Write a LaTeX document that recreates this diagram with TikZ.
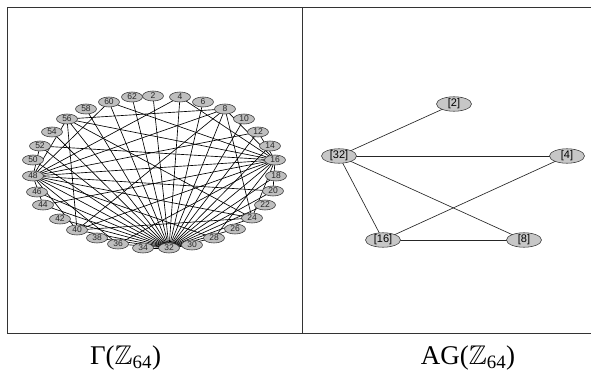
\documentclass[tikz,border=0pt]{standalone}
\usepackage{amssymb}
\usepackage{fontspec}
\setmainfont{Liberation Serif}
\newfontfamily\labfont{Liberation Sans}
\usetikzlibrary{shapes.geometric}
\pgfdeclarelayer{bg}
\pgfsetlayers{bg,main}
\tikzset{
  vtx/.style={ellipse, draw=black!80, fill=black!25, line width=0.55pt, inner sep=0pt,
    minimum width=21pt, minimum height=10pt, font=\labfont\fontsize{8.5}{9}\selectfont, text=black!85},
  cls/.style={ellipse, draw=black!80, fill=black!22, line width=0.55pt, inner sep=0pt,
    minimum width=35pt, minimum height=10.5pt, font=\labfont\fontsize{11}{11}\selectfont},
  edge/.style={line width=0.65pt, black},
  aedge/.style={line width=0.65pt, black!85},
  frame/.style={line width=1pt, black!80},
  captxt/.style={font=\fontsize{27}{29}\selectfont, inner sep=0pt}
}
\begin{document}
\begin{tikzpicture}[x=1pt,y=-1pt]
\useasboundingbox (0,0) rectangle (591,374);
% frame
\coordinate (tl) at (7,8); \coordinate (tr) at (591,8);
\coordinate (bl) at (7,333); \coordinate (br) at (591,333);
\coordinate (mt) at (302.5,8); \coordinate (mb) at (302.5,333);
\draw[frame] (tl) -- (tr);
\draw[frame] (bl) -- (br);
\draw[frame] (tl) -- (bl);
\draw[frame] (mt) -- (mb);
% left graph vertices
\foreach \n/\x/\y in {
 2/153/96, 4/180/97, 6/203/102, 8/225/109, 10/244/119, 12/258/132, 14/270/146,
 16/275/160, 18/276/176, 20/273/191, 22/265/205, 24/252/218, 26/235/229,
 28/214/238, 30/192/245, 32/169/248, 34/143/248, 36/118/244, 38/97/238,
 40/77/230, 42/60/219, 44/43/205, 46/37/192, 48/33/176, 50/33/160, 52/40/146,
 54/52/132, 56/67/119, 58/86/109, 60/109/102, 62/132/97}
 \node[vtx] (n\n) at (\x,\y) {\n};
% edges of the zero-divisor graph
\begin{pgfonlayer}{bg}
\foreach \v in {2,4,...,30,34,36,...,62} \draw[edge] (n32.center) -- (n\v.center);
\foreach \v in {4,12,20,28,36,44,52,60,8,24,40,56,48} \draw[edge] (n16.center) -- (n\v.center);
\foreach \v in {4,12,20,28,36,44,52,60,8,24,40,56} \draw[edge] (n48.center) -- (n\v.center);
\foreach \a/\b in {8/24,8/40,8/56,24/40,24/56,40/56} \draw[edge] (n\a.center) -- (n\b.center);
\end{pgfonlayer}
% right graph
\node[cls] (c2) at (454,104) {[2]};
\node[cls] (c32) at (339,156) {[32]};
\node[cls] (c4) at (567,156) {[4]};
\node[cls] (c16) at (383,240) {[16]};
\node[cls] (c8) at (524,240) {[8]};
\begin{pgfonlayer}{bg}
\draw[aedge] (c32.center) -- (c2.center);
\draw[aedge] (c32.center) -- (c4.center);
\draw[aedge] (c32.center) -- (c16.center);
\draw[aedge] (c32.center) -- (c8.center);
\draw[aedge] (c16.center) -- (c4.center);
\draw[aedge] (c16.center) -- (c8.center);
\end{pgfonlayer}
% captions
\node[captxt] (capl) at (125.5,358) {Γ($\mathbb{Z}$\textsubscript{64})};
\node[captxt] (capr) at (468,358) {AG($\mathbb{Z}$\textsubscript{64})};
\end{tikzpicture}
\end{document}
